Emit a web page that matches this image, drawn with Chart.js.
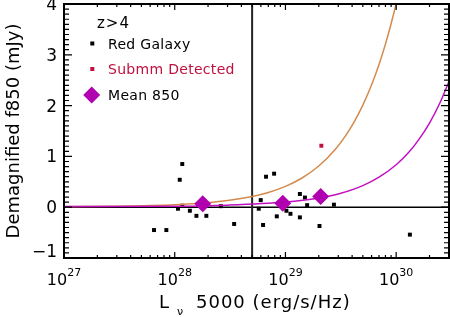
<!DOCTYPE html>
<html>
<head>
<meta charset="utf-8">
<script src="https://cdn.jsdelivr.net/npm/chart.js@4/dist/chart.umd.min.js"></script>
<style>
  html, body { margin: 0; padding: 0; background: #fff; }
  #wrap { width: 450px; height: 317px; }
</style>
</head>
<body>
<div id="wrap"><canvas id="chart" width="450" height="317"></canvas></div>
<script>
// Red galaxies (L_nu 5000 in erg/s/Hz, demagnified f850 in mJy)
const redGalaxyL = [6.5e27, 8.4e27, 1.11e28, 1.17e28, 1.07e28, 1.17e28, 1.37e28, 1.57e28, 1.93e28, 2.61e28, 3.44e28,
                    5.74e28, 5.98e28, 6.28e28, 6.68e28, 7.9e28, 8.35e28, 1.02e29, 1.11e29, 1.35e29, 1.35e29,
                    1.5e29, 1.57e29, 2.03e29, 2.74e29, 1.33e30];
const redGalaxyF = [-0.45, -0.45, 0.54, 0.85, -0.03, 0.03, -0.07, -0.17, -0.17, 0.02, -0.33,
                    -0.03, 0.14, -0.35, 0.6, 0.66, -0.18, -0.07, -0.13, 0.26, -0.2,
                    0.19, 0.04, -0.37, 0.05, -0.54];

const submmL = [2.11e29];
const submmF = [1.21];

const meanL = [1.79e28, 9.46e28, 2.08e29];
const meanF = [0.07, 0.08, 0.21];

// model curves
const orangeL = [1e27, 3e27, 1e28, 2e28, 3e28, 5e28, 7e28, 1e29, 1.4e29, 2e29, 2.8e29, 3.5e29, 4.2e29,
                 5e29, 6e29, 7e29, 8e29, 9e29, 1e30, 1.1e30];
const orangeF = [0.01, 0.02, 0.05, 0.09, 0.13, 0.21, 0.29, 0.41, 0.57, 0.81, 1.13, 1.41, 1.69,
                 2.01, 2.41, 2.81, 3.21, 3.61, 4.01, 4.41];

const magentaL = [1e27, 1e28, 3e28, 1e29, 2e29, 3e29, 5e29, 7e29, 1e30, 1.3e30, 1.6e30, 2e30, 2.5e30, 3e30];
const magentaF = [0.015, 0.02, 0.04, 0.1, 0.18, 0.26, 0.425, 0.59, 0.835, 1.08, 1.33, 1.655, 2.065, 2.475];

const yTicks = [-1, 0, 1, 2, 3, 4];
const yTickLabels = ['\u22121', '0', '1', '2', '3', '4'];
const xTickExps = [27, 28, 29, 30];
const cutL = 5e28;

const FONT = '"DejaVu Sans", sans-serif';
const MAGENTA = '#b000b0';
const CRIMSON = '#c0103e';
const ORANGE = '#d48a4c';

function pts(xs, ys) {
    return xs.map((x, i) => ({ x: x, y: ys[i] }));
}

const framePlugin = {
    id: 'frame',
    beforeDatasetsDraw(chart) {
        const { ctx, chartArea: a, scales: { x, y } } = chart;
        ctx.save();
        // zero line
        ctx.strokeStyle = '#000';
        ctx.lineWidth = 1.5;
        const y0 = y.getPixelForValue(0);
        ctx.beginPath();
        ctx.moveTo(a.left, y0);
        ctx.lineTo(a.right, y0);
        ctx.stroke();
        // luminosity cut
        const xc = x.getPixelForValue(cutL);
        ctx.strokeStyle = '#222';
        ctx.lineWidth = 2;
        ctx.beginPath();
        ctx.moveTo(xc, a.top);
        ctx.lineTo(xc, a.bottom);
        ctx.stroke();
        ctx.restore();
    },
    afterDatasetsDraw(chart) {
        const { ctx, chartArea: a, scales: { x, y } } = chart;
        ctx.save();
        ctx.strokeStyle = '#000';
        ctx.fillStyle = '#000';

        // y ticks, inward on both sides
        ctx.lineWidth = 1.2;
        for (let v = -1; v <= 4.001; v += 0.1) {
            const py = y.getPixelForValue(v);
            const major = Math.abs(v - Math.round(v)) < 0.01;
            const len = major ? 8 : 5;
            ctx.beginPath();
            ctx.moveTo(a.left, py); ctx.lineTo(a.left + len, py);
            ctx.moveTo(a.right, py); ctx.lineTo(a.right - len, py);
            ctx.stroke();
        }
        // x ticks, log minors
        for (let e = 27; e <= 30; e++) {
            for (let k = 1; k <= 9; k++) {
                const v = k * Math.pow(10, e);
                if (v > x.max * 1.0001) break;
                const px = x.getPixelForValue(v);
                const len = k === 1 ? 6 : 3;
                ctx.beginPath();
                ctx.moveTo(px, a.bottom); ctx.lineTo(px, a.bottom - len);
                ctx.moveTo(px, a.top); ctx.lineTo(px, a.top + len);
                ctx.stroke();
            }
        }

        // frame
        ctx.lineWidth = 2;
        ctx.strokeRect(a.left, a.top, a.right - a.left, a.bottom - a.top);

        // y tick labels
        ctx.font = '17px ' + FONT;
        ctx.textAlign = 'right';
        ctx.textBaseline = 'middle';
        yTicks.forEach((v, i) => {
            let cy = y.getPixelForValue(v) + 1.5;
            cy = Math.min(cy, 252.5);
            ctx.fillText(yTickLabels[i], 57, cy);
        });

        // x tick labels 10^n
        ctx.textAlign = 'left';
        ctx.textBaseline = 'alphabetic';
        xTickExps.forEach(e => {
            const px = x.getPixelForValue(Math.pow(10, e));
            ctx.font = '16px ' + FONT;
            const w1 = ctx.measureText('10').width;
            ctx.font = '11px ' + FONT;
            const w2 = ctx.measureText(String(e)).width;
            const x0 = px - (w1 + w2) / 2;
            ctx.font = '16px ' + FONT;
            ctx.fillText('10', x0, 285);
            ctx.font = '11px ' + FONT;
            ctx.fillText(String(e), x0 + w1, 276);
        });

        // x title
        ctx.font = '18px ' + FONT;
        ctx.letterSpacing = '1px';
        ctx.fillText('L', 159, 308);
        ctx.fillText('5000 (erg/s/Hz)', 196, 308);
        ctx.letterSpacing = '0px';
        ctx.font = '11px ' + FONT;
        ctx.fillText('\u03bd', 177, 315);

        // y title
        ctx.save();
        ctx.translate(19, 131);
        ctx.rotate(-Math.PI / 2);
        ctx.font = '18px ' + FONT;
        ctx.textAlign = 'center';
        ctx.fillText('Demagnified f850 (mJy)', 0, 0);
        ctx.restore();

        // legend
        ctx.font = '15px ' + FONT;
        ctx.letterSpacing = '1px';
        ctx.fillText('z>4', 97, 28);
        ctx.letterSpacing = '0.3px';
        ctx.font = '14px ' + FONT;
        ctx.fillText('Red Galaxy', 108, 48.5);
        ctx.fillStyle = CRIMSON;
        ctx.fillText('Submm Detected', 108, 74);
        ctx.fillStyle = '#000';
        ctx.fillText('Mean 850', 108, 100);
        ctx.letterSpacing = '0px';

        ctx.fillRect(90.3, 41.5, 4, 4);
        ctx.fillStyle = CRIMSON;
        ctx.fillRect(90.3, 67, 4, 4);
        ctx.fillStyle = MAGENTA;
        ctx.beginPath();
        ctx.moveTo(91.7, 86.5);
        ctx.lineTo(100.2, 95);
        ctx.lineTo(91.7, 103.5);
        ctx.lineTo(83.2, 95);
        ctx.closePath();
        ctx.fill();

        ctx.restore();
    }
};

new Chart(document.getElementById('chart'), {
    type: 'scatter',
    data: {
        datasets: [
            {
                label: 'Mean 850',
                data: pts(meanL, meanF),
                pointStyle: 'rectRot',
                pointRadius: 8.5,
                pointBorderWidth: 0,
                backgroundColor: MAGENTA,
                borderColor: MAGENTA
            },
            {
                label: 'magenta model',
                data: pts(magentaL, magentaF),
                showLine: true,
                pointRadius: 0,
                borderWidth: 1.5,
                borderColor: '#c010c0',
                cubicInterpolationMode: 'monotone'
            },
            {
                label: 'orange model',
                data: pts(orangeL, orangeF),
                showLine: true,
                pointRadius: 0,
                borderWidth: 1.5,
                borderColor: ORANGE,
                cubicInterpolationMode: 'monotone'
            },
            {
                label: 'Submm Detected',
                data: pts(submmL, submmF),
                pointStyle: 'rect',
                pointRadius: 2.8,
                pointBorderWidth: 0,
                backgroundColor: CRIMSON
            },
            {
                label: 'Red Galaxy',
                data: pts(redGalaxyL, redGalaxyF),
                pointStyle: 'rect',
                pointRadius: 2.8,
                pointBorderWidth: 0,
                backgroundColor: '#000'
            }
        ]
    },
    options: {
        responsive: false,
        devicePixelRatio: 1,
        animation: false,
        layout: { autoPadding: false, padding: { left: 64, right: 1, top: 4, bottom: 59 } },
        plugins: { legend: { display: false }, tooltip: { enabled: false } },
        scales: {
            x: { type: 'logarithmic', min: 1e27, max: 3e30, display: false },
            y: { type: 'linear', min: -1, max: 4, display: false }
        }
    },
    plugins: [framePlugin]
});
</script>
</body>
</html>
